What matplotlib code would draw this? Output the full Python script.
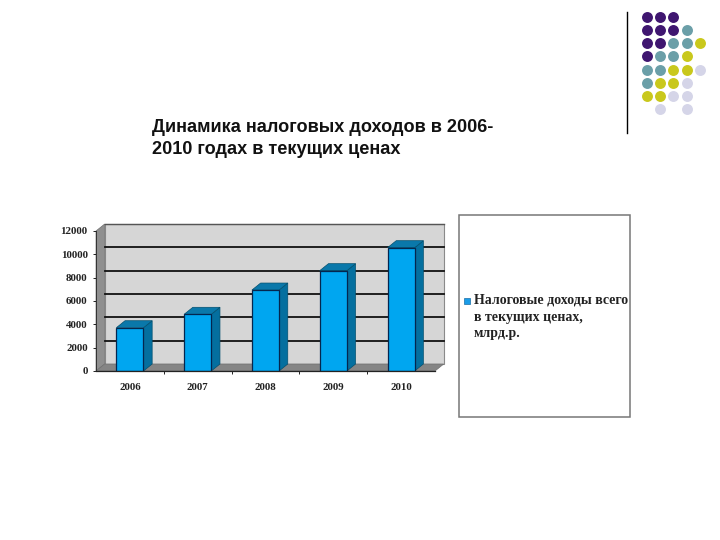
import matplotlib.pyplot as plt
from matplotlib.patches import Polygon, Rectangle

years = ['2006', '2007', '2008', '2009', '2010']
values = [3710, 4860, 6940, 8600, 10570]
yticks = [0, 2000, 4000, 6000, 8000, 10000, 12000]

title_lines = ['Динамика налоговых доходов в 2006-', '2010 годах в текущих ценах']
legend_lines = ['Налоговые доходы всего', 'в текущих ценах,', 'млрд.р.']

# dots of the slide decoration, one string per row
dot_rows = ['PPP', 'PPPT', 'PPTTY', 'PTTY', 'TTYYL', 'TYYL', 'YYLL', ' L L']
dot_colors = {'P': '#3f1670', 'T': '#6b9fa8', 'Y': '#c9c81c', 'L': '#d5d5e8'}

serif = 'Liberation Serif'
fig = plt.figure(figsize=(7.2, 5.4), dpi=100)

# overlay in pixels for the slide stuff
bg = fig.add_axes([0, 0, 1, 1])
bg.set_xlim(0, 720)
bg.set_ylim(540, 0)
bg.axis('off')

bg.plot([627, 627], [12, 133], color='black', lw=1.0)
for r, row in enumerate(dot_rows):
    for c, key in enumerate(row):
        if key != ' ':
            bg.scatter(646.7 + c * 13.3, 16.7 + r * 13.2, s=62, color=dot_colors[key], linewidths=0)

for line, y in zip(title_lines, [132.5, 153.5]):
    bg.text(152, y, line, family='Liberation Sans', weight='bold', fontsize=13.1,
            va='baseline', ha='left', color='#111111')

bg.add_patch(Rectangle((459, 215), 171, 202, fc='white', ec='#777777', lw=1.1))
bg.add_patch(Rectangle((464, 298), 5.5, 5.5, fc='#1a9ce8', ec='#1a6fa8', lw=0.5))
for line, y in zip(legend_lines, [300, 318, 334]):
    bg.text(474, y, line, family=serif, weight='bold', fontsize=10.0, va='center', ha='left', color='#222222')

# chart, axes sit on the front plane of the 3d box
ax = fig.add_axes([96 / 720, 169 / 540, 339 / 720, 140 / 540])
ax.set_xlim(0, 5)
ax.set_ylim(0, 12000)
ax.patch.set_alpha(0)

dx = 8.7 / 67.8
dy = 600
bar_w = 0.4

ax.add_patch(Polygon([(dx, dy), (5 + dx, dy), (5 + dx, 12000 + dy), (dx, 12000 + dy)], fc='#d6d6d6',
                     ec='#8a8a8a', lw=0.8, clip_on=False, zorder=1))
ax.plot([dx, 5 + dx], [12000 + dy, 12000 + dy], color='#555555', lw=1, clip_on=False, zorder=2)
ax.add_patch(Polygon([(0, 0), (dx, dy), (dx, 12000 + dy), (0, 12000)], fc='#8f8f8f', ec='#707070', lw=0.5,
                     clip_on=False, zorder=1))
ax.add_patch(Polygon([(0, 0), (5, 0), (5 + dx, dy), (dx, dy)], fc='#858585', ec='#707070', lw=0.5,
                     clip_on=False, zorder=2))
for v in yticks[1:-1]:
    ax.plot([dx, 5 + dx], [v + dy, v + dy], color='#111111', lw=1.3, clip_on=False, zorder=2)

for i, v in enumerate(values):
    x0 = i + 0.5 - bar_w / 2
    x1 = x0 + bar_w
    ax.add_patch(Polygon([(x1, 0), (x1 + dx, dy), (x1 + dx, v + dy), (x1, v)], fc='#046f9f', ec='#03506f', lw=0.5,
                         clip_on=False, zorder=3))
    ax.add_patch(Polygon([(x0, v), (x1, v), (x1 + dx, v + dy), (x0 + dx, v + dy)], fc='#0a78aa', ec='#03506f', lw=0.5,
                         clip_on=False, zorder=3))
    ax.bar(i + 0.5, v, width=bar_w, color='#00a6f0', edgecolor='#04264f', linewidth=0.9, zorder=4)

for s in ['top', 'right']:
    ax.spines[s].set_visible(False)
ax.spines['left'].set_color('#333333')
ax.spines['bottom'].set_color('#222222')
ax.spines['left'].set_linewidth(0.7)
ax.spines['bottom'].set_linewidth(0.9)
ax.spines['bottom'].set_zorder(5)

ax.set_yticks(yticks)
ax.set_yticklabels([str(v) for v in yticks], family=serif, weight='bold', fontsize=7.8, color='#222222')
ax.set_xticks([i + 0.5 for i in range(5)])
ax.set_xticklabels(years, family=serif, weight='bold', fontsize=7.8, color='#222222')
ax.tick_params(axis='y', length=2, width=0.6, pad=4)
ax.tick_params(axis='x', length=0, pad=9)
ax.set_xticks(range(1, 5), minor=True)
ax.tick_params(axis='x', which='minor', length=2, width=0.6)

fig.savefig('out.png', dpi=100)
